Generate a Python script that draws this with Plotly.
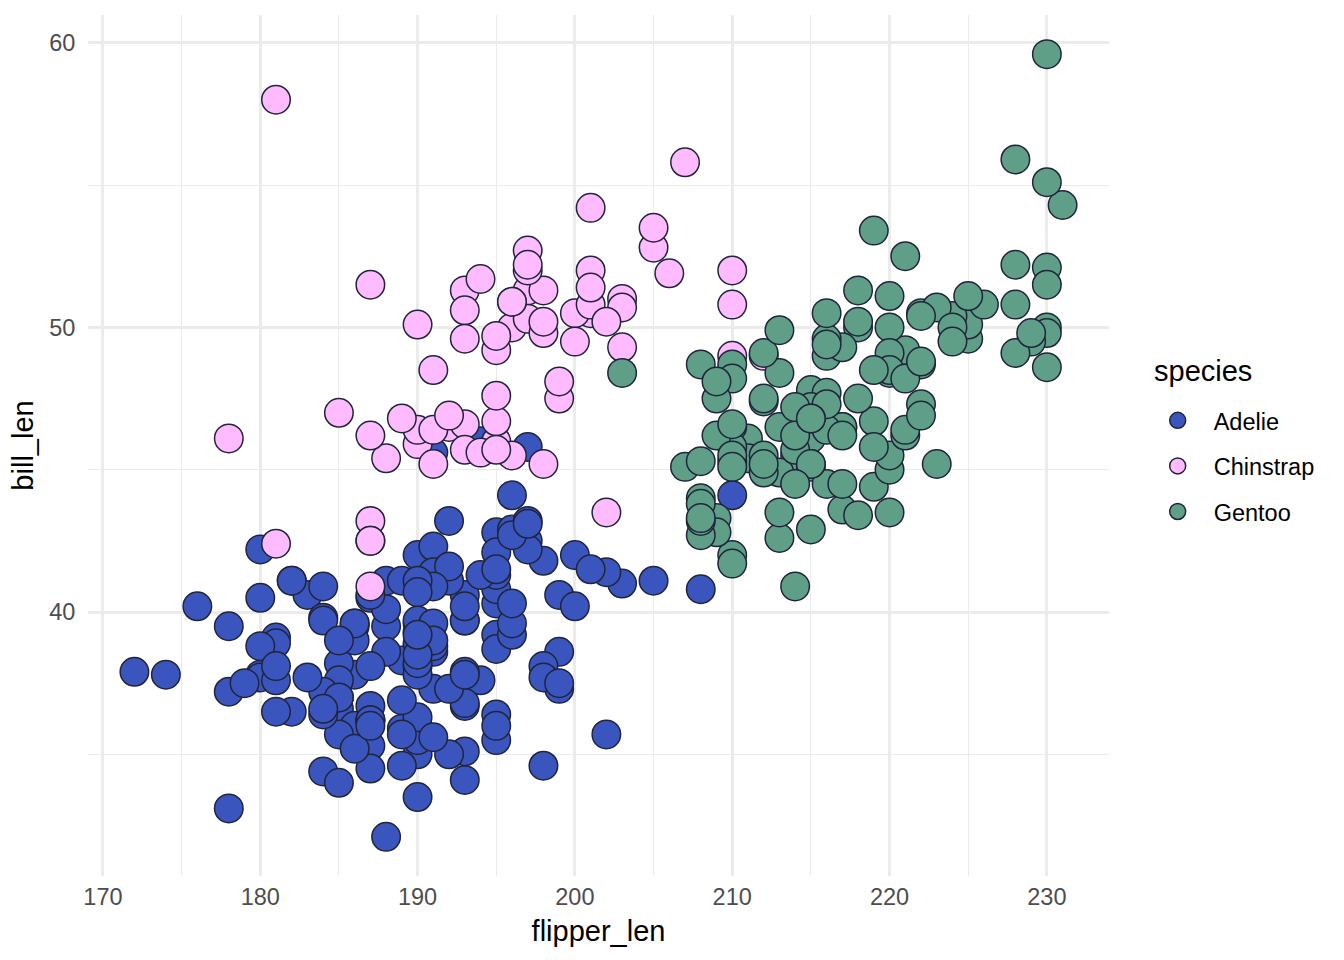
import plotly.graph_objects as go

# Palmer penguins: flipper length (mm) and bill length (mm)
adelie_flipper = [181,186,195,193,190,181,195,193,190,186,180,182,191,198,185,195,197,184,194,
                  174,180,189,185,180,187,183,187,172,180,
                  178,178,188,184,195,196,190,180,181,184,182,195,186,196,185,190,182,179,190,191,
                  186,188,190,200,187,191,186,193,181,194,185,195,185,192,184,192,195,188,
                  190,198,190,190,196,197,190,195,191,184,187,195,189,196,187,193,
                  191,194,190,189,189,190,202,205,185,186,187,208,190,196,178,192,
                  192,203,183,190,193,184,199,190,181,197,198,191,193,197,191,196,
                  188,199,189,189,187,198,176,202,186,199,191,195,191,210,190,197,
                  193,199,187,190,191,200,185,193,193,187,188,190,192,185,190,184,195,193,187,201]
adelie_bill = [39.1,39.5,40.3,36.7,39.3,38.9,39.2,34.1,42.0,37.8,37.8,41.1,38.6,34.6,36.6,38.7,42.5,34.4,46.0,
               37.8,37.7,35.9,38.2,38.8,35.3,40.6,40.5,37.9,40.5,
               39.5,37.2,39.5,40.9,36.4,39.2,38.8,42.2,37.6,39.8,36.5,40.8,36.0,44.1,37.0,39.6,41.1,37.5,36.0,42.3,
               39.6,40.1,35.0,42.0,34.5,41.4,39.0,40.6,36.5,37.6,35.7,41.3,37.6,41.1,36.4,41.6,35.5,41.1,
               35.9,41.8,33.5,39.7,39.6,45.8,35.5,42.8,40.9,37.2,36.2,42.1,34.6,42.9,36.7,35.1,
               37.3,41.3,36.3,36.9,38.3,38.9,35.7,41.1,34.0,39.6,36.2,40.8,38.1,40.3,33.1,43.2,
               35.0,41.0,37.7,37.8,37.9,39.7,38.6,38.2,38.1,43.2,38.1,45.6,39.7,42.2,39.6,42.7,
               38.6,37.3,35.7,41.1,36.2,37.7,40.2,41.4,35.2,40.6,38.8,41.5,39.0,44.1,38.5,43.1,
               36.8,37.5,38.1,41.1,35.6,40.2,37.0,39.7,40.2,40.6,32.1,40.7,37.3,39.0,39.2,36.6,36.0,37.8,36.0,41.5]

chinstrap_flipper = [192,196,193,188,197,198,178,197,195,198,193,194,185,201,190,201,197,181,190,195,
                     181,191,187,193,195,197,200,200,191,205,187,201,187,203,195,199,195,210,192,205,
                     210,187,196,196,196,201,190,212,187,198,199,201,193,203,187,197,191,203,202,194,
                     206,189,195,207,202,193,210,198]
chinstrap_bill = [46.5,50.0,51.3,45.4,52.7,45.2,46.1,51.3,46.0,51.3,46.6,51.7,47.0,52.0,45.9,50.5,50.3,58.0,46.4,49.2,
                  42.4,48.5,43.2,50.6,46.7,52.0,50.5,49.5,46.4,52.8,40.9,54.2,42.5,51.0,49.7,47.5,47.6,52.0,46.9,53.5,
                  49.0,46.2,50.9,45.5,50.9,50.8,50.1,49.0,51.5,49.8,48.1,51.4,45.7,50.7,42.5,52.2,45.2,49.3,50.2,45.6,
                  51.9,46.8,45.7,55.8,43.5,49.6,50.8,50.2]

gentoo_flipper = [211,230,210,218,215,210,211,219,209,215,214,216,214,213,210,217,210,221,209,222,
                  218,215,213,215,215,215,216,215,210,220,222,209,207,230,220,220,213,219,208,208,
                  208,225,210,216,222,217,210,225,213,215,210,220,210,225,217,220,208,220,208,224,
                  208,221,214,231,219,230,214,229,220,223,216,221,221,217,216,230,209,220,215,223,
                  212,221,212,224,212,228,218,218,212,230,218,228,212,224,214,226,216,222,203,225,
                  219,228,215,228,216,215,210,219,208,209,216,229,213,230,217,230,217,222,214,
                  215,222,212,213]
gentoo_bill = [46.1,50.0,48.7,50.0,47.6,46.5,45.4,46.7,43.3,46.8,40.9,49.0,45.5,48.4,45.8,49.3,42.0,49.2,46.2,48.7,
               50.2,45.1,46.5,46.3,42.9,46.1,44.5,47.8,48.2,50.0,47.3,42.8,45.1,59.6,49.1,48.4,42.6,44.4,44.0,48.7,
               42.7,49.6,45.3,49.6,50.5,43.6,45.5,50.5,44.9,45.2,46.6,48.5,45.1,50.1,46.5,45.0,43.8,45.5,43.2,50.4,
               45.3,46.2,45.7,54.3,45.8,49.8,46.2,49.5,43.5,50.7,47.7,46.4,48.2,46.5,46.4,48.6,47.5,51.1,45.2,45.2,
               49.1,52.5,47.4,50.0,44.9,50.8,43.4,51.3,47.5,52.1,47.5,52.2,45.5,49.5,44.5,50.8,49.4,46.9,48.4,51.1,
               48.5,55.9,47.2,49.1,47.3,46.8,41.7,53.4,43.3,48.1,50.5,49.8,43.5,51.5,46.2,55.1,44.5,48.8,47.2,
               46.8,50.4,45.2,49.9]

species = ["Adelie", "Chinstrap", "Gentoo"]
fills = ["#3A55BE", "#FFBBFF", "#5F9E87"]
xs = [adelie_flipper, chinstrap_flipper, gentoo_flipper]
ys = [adelie_bill, chinstrap_bill, gentoo_bill]

x_ticks = [170, 180, 190, 200, 210, 220, 230]
y_ticks = [40, 50, 60]

FONT = "Liberation Sans, Arial, Helvetica, sans-serif"

fig = go.Figure()
for name, col, x, y in zip(species, fills, xs, ys):
    fig.add_trace(go.Scatter(
        x=x, y=y, mode="markers", name=name, legendgroup=name,
        marker=dict(size=28.5, color=col, line=dict(color="#20253A", width=1.5)),
    ))

fig.update_layout(
    width=1344, height=960,
    margin=dict(l=88, r=235, t=15, b=84),
    plot_bgcolor="white", paper_bgcolor="white",
    font=dict(family=FONT, size=23.5, color="#4D4D4D"),
    xaxis=dict(
        range=[169.05, 233.95], tickvals=x_ticks, showline=False, zeroline=False,
        gridcolor="#EBEBEB", gridwidth=2.8,
        minor=dict(tickvals=[175, 185, 195, 205, 215, 225], showgrid=True,
                   gridcolor="#EBEBEB", gridwidth=1.4),
        ticks="outside", ticklen=0, tickcolor="rgba(0,0,0,0)",
        tickfont=dict(size=23.5, color="#4D4D4D"),
        title=dict(text="flipper_len", font=dict(size=29, color="black"), standoff=11),
    ),
    yaxis=dict(
        range=[30.725, 60.975], tickvals=y_ticks, showline=False, zeroline=False,
        gridcolor="#EBEBEB", gridwidth=2.8,
        minor=dict(tickvals=[35, 45, 55], showgrid=True, gridcolor="#EBEBEB", gridwidth=1.4),
        ticks="outside", ticklen=7, tickcolor="rgba(0,0,0,0)",
        tickfont=dict(size=23.5, color="#4D4D4D"),
        title=dict(text="bill_len", font=dict(size=29, color="black"), standoff=7),
    ),
    legend=dict(
        font=dict(size=23.5, color="black"),
        x=1.032, xanchor="left", y=0.5545, yanchor="top",
        tracegroupgap=12, itemwidth=62, bgcolor="rgba(0,0,0,0)",
    ),
    annotations=[dict(
        text="species", xref="paper", yref="paper", x=1.0425, y=0.5865,
        xanchor="left", yanchor="middle", showarrow=False,
        font=dict(size=29, color="black"),
    )],
    showlegend=True,
)

fig.write_html("out.html")
